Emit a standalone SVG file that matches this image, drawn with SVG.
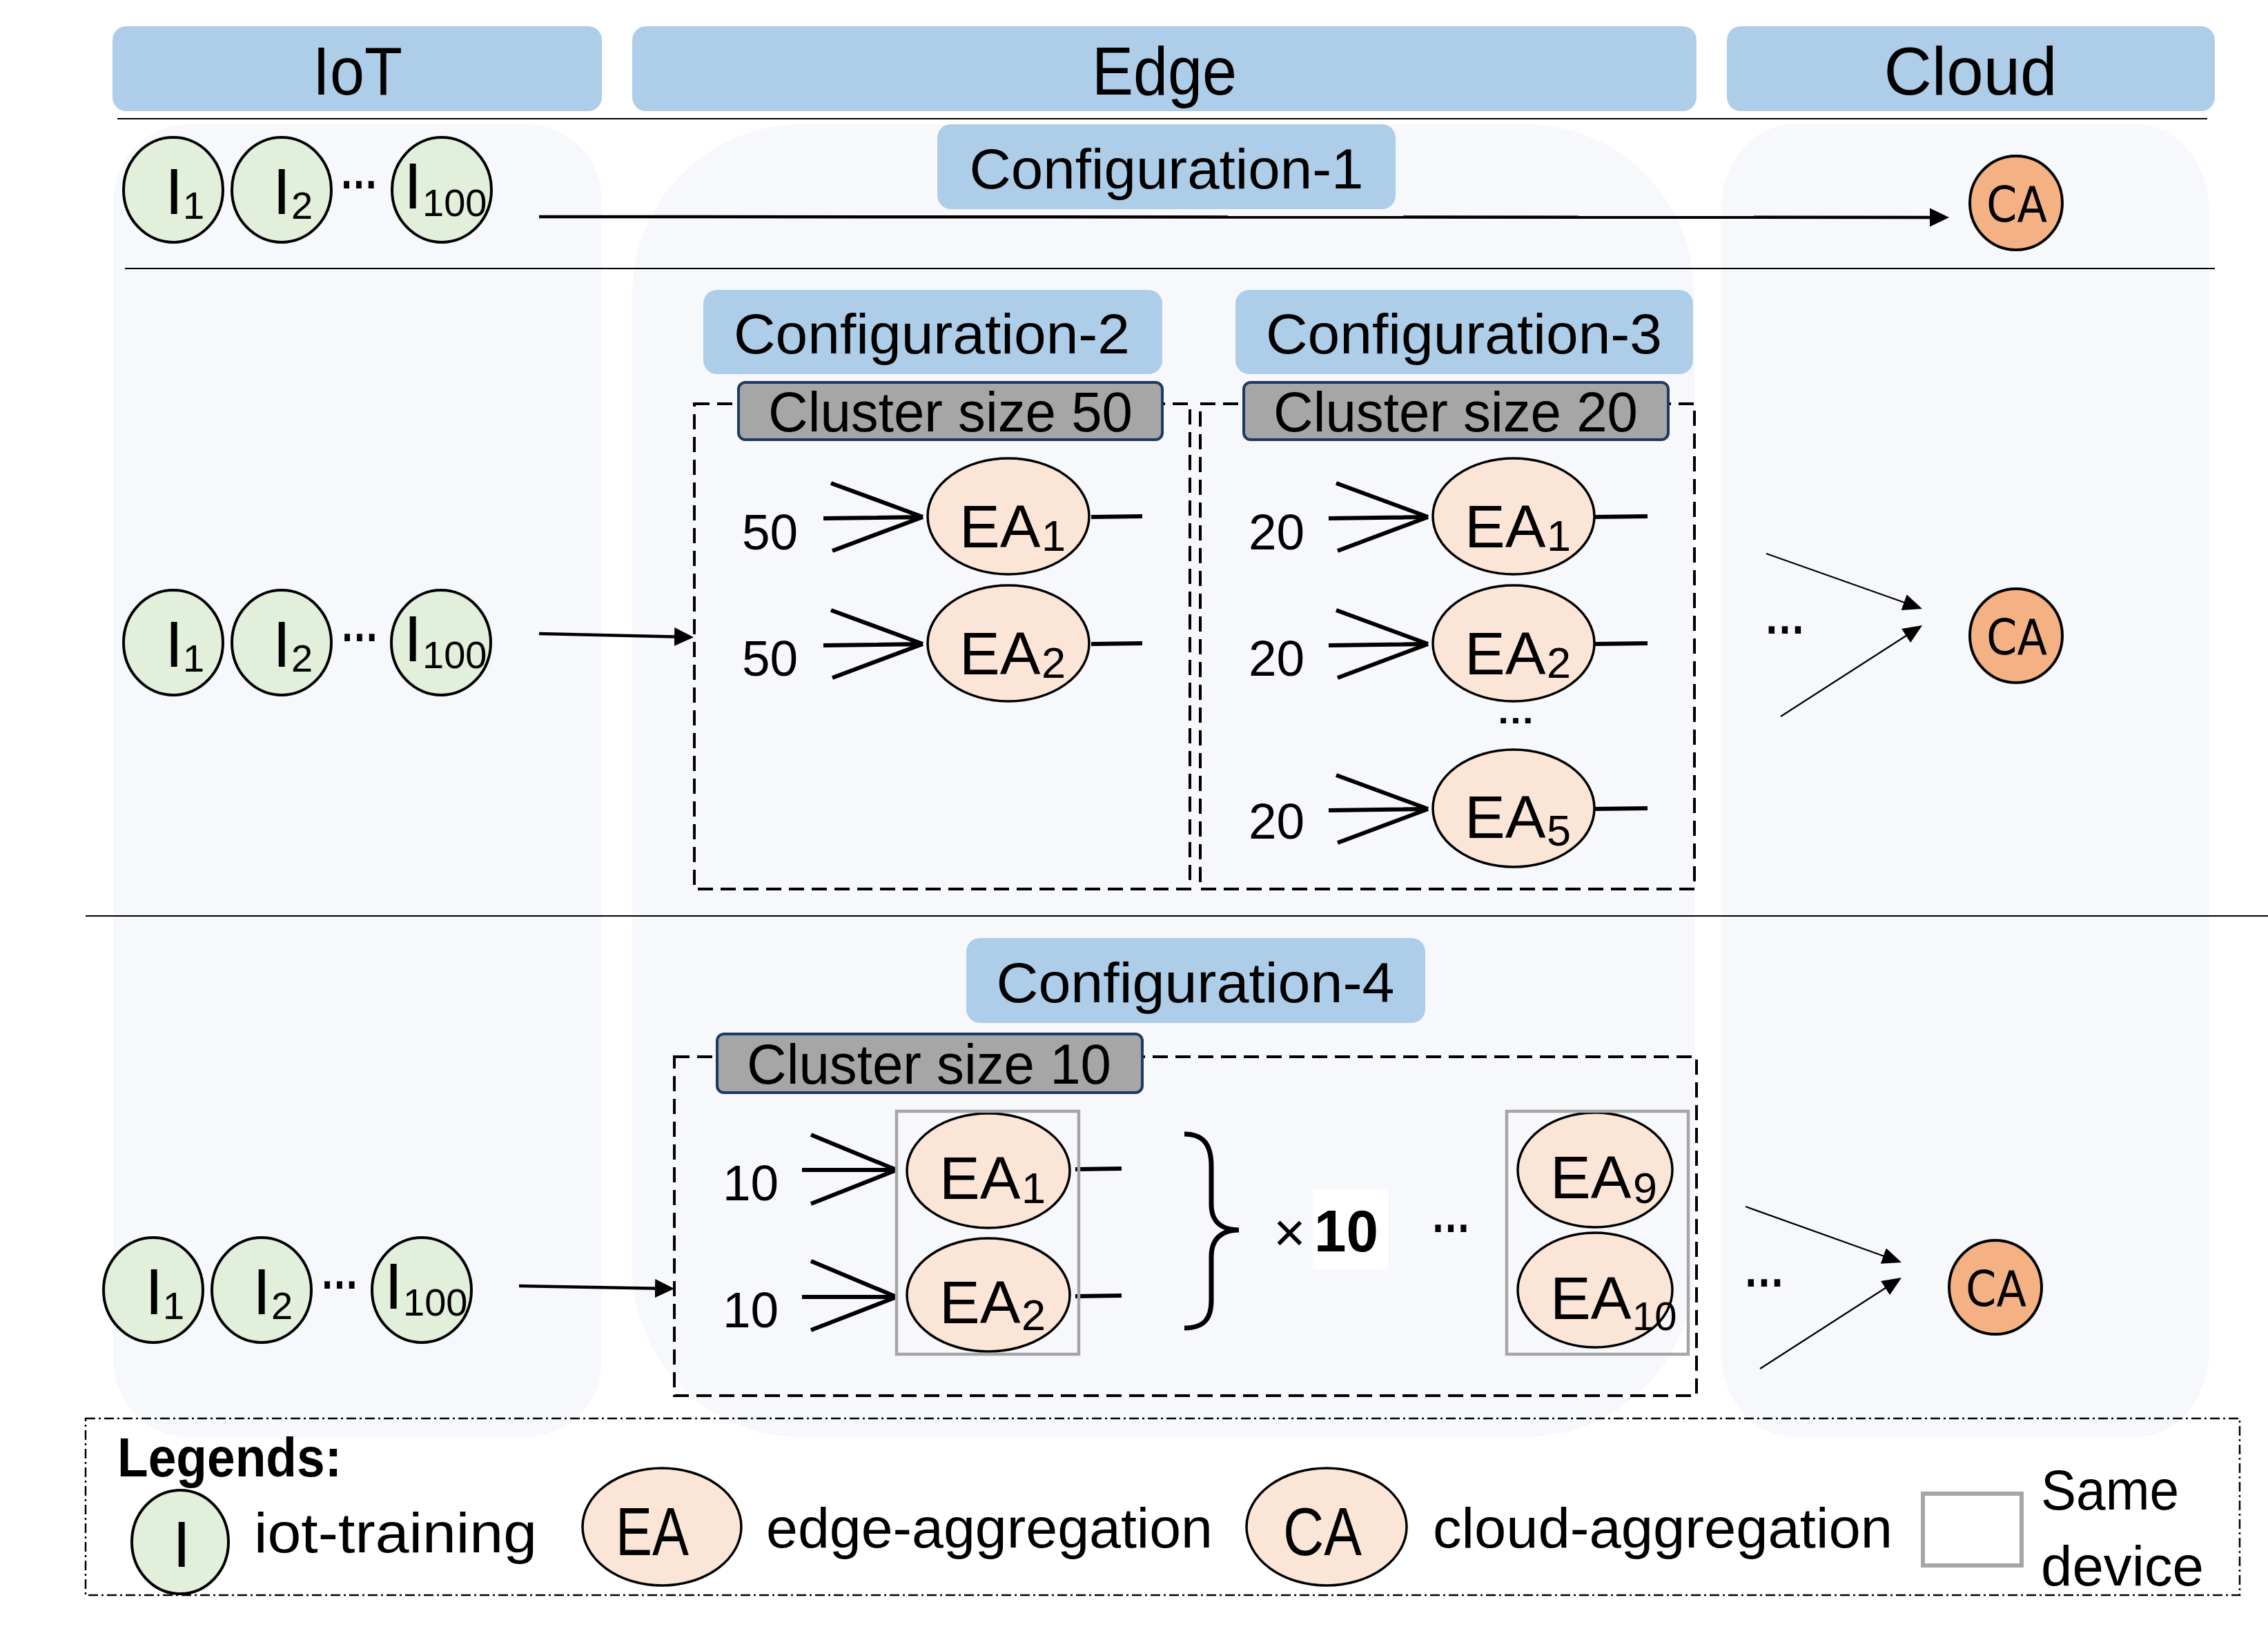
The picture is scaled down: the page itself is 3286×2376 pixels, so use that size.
<svg xmlns="http://www.w3.org/2000/svg" width="3286" height="2376" viewBox="0 0 3286 2376">
<style>
.bg{fill:#FFFFFF}
.col{fill:#F6F8FC}
.hdr{fill:#AECDE9}
.clu{fill:#A6A6A6;stroke:#1F3864;stroke-width:4}
.dash{fill:none;stroke:#000;stroke-width:4;stroke-dasharray:22 11}
.iot{fill:#E2EFDA;stroke:#000;stroke-width:4}
.ea{fill:#FBE5D6;stroke:#000;stroke-width:3.5}
.ca{fill:#F4B183;stroke:#000;stroke-width:4}
.same{fill:none;stroke:#A6A6A6;stroke-width:4.5}
.sep{stroke:#000;stroke-width:2.2}
.t{font-family:'Liberation Sans',Arial,sans-serif;fill:#000}
.eat{font-family:'Liberation Sans',Arial,sans-serif;fill:#000;font-size:88px}
.cat{font-family:'DejaVu Sans','Liberation Sans',sans-serif;fill:#000}
.fan{stroke:#000;stroke-width:6;fill:none;stroke-linecap:butt}
.arr{stroke:#000;stroke-width:4.5;fill:none}
.arrt{stroke:#000;stroke-width:2.3;fill:none}
.dots{font-family:'Liberation Sans',Arial,sans-serif;font-weight:bold;font-size:72px;fill:#000}
</style>
<defs>
<marker id="ah" markerUnits="userSpaceOnUse" markerWidth="28" markerHeight="27" refX="22" refY="13.5" orient="auto"><path d="M0,0 L28,13.5 L0,27 z" fill="#000"/></marker>
<marker id="aht" markerUnits="userSpaceOnUse" markerWidth="28" markerHeight="24" refX="22" refY="12" orient="auto"><path d="M0,0 L28,12 L0,24 z" fill="#000"/></marker>
</defs>
<rect class="bg" x="0" y="0" width="3286" height="2376"/>

<g id="columns">
<rect class="col" x="164" y="180" width="708" height="1902" rx="110" ry="110"/>
<rect class="col" x="916" y="180" width="1539" height="1902" rx="245" ry="245"/>
<rect class="col" x="2493" y="180" width="708" height="1902" rx="105" ry="125"/>
</g>

<g id="headers">
<rect class="hdr" x="163" y="38" width="709" height="123" rx="20"/>
<text class="t" x="518" y="137" font-size="98" text-anchor="middle" textLength="130" lengthAdjust="spacingAndGlyphs">IoT</text>
<rect class="hdr" x="916" y="38" width="1542" height="123" rx="20"/>
<text class="t" x="1687" y="137" font-size="98" text-anchor="middle" textLength="210" lengthAdjust="spacingAndGlyphs">Edge</text>
<rect class="hdr" x="2502" y="38" width="707" height="123" rx="20"/>
<text class="t" x="2855" y="137" font-size="98" text-anchor="middle" textLength="251" lengthAdjust="spacingAndGlyphs">Cloud</text>
</g>

<g id="separators">
<line class="sep" x1="170" y1="172" x2="3198" y2="172"/>
<line class="sep" x1="181" y1="389" x2="3209" y2="389"/>
<line class="sep" x1="124" y1="1327" x2="3286" y2="1327"/>
</g>

<g id="config-labels">
<g id="config1">
<rect class="hdr" x="1358" y="180" width="664" height="123" rx="20"/>
<text class="t" x="1690" y="273" font-size="81" text-anchor="middle" textLength="571" lengthAdjust="spacingAndGlyphs">Configuration-1</text>
</g>
<g id="config2">
<rect class="hdr" x="1019" y="420" width="665" height="122" rx="20"/>
<text class="t" x="1350" y="512" font-size="81" text-anchor="middle" textLength="574" lengthAdjust="spacingAndGlyphs">Configuration-2</text>
</g>
<g id="config3">
<rect class="hdr" x="1790" y="420" width="663" height="122" rx="20"/>
<text class="t" x="2121" y="512" font-size="81" text-anchor="middle" textLength="574" lengthAdjust="spacingAndGlyphs">Configuration-3</text>
</g>
<g id="config4">
<rect class="hdr" x="1400" y="1359" width="665" height="123" rx="20"/>
<text class="t" x="1732" y="1452" font-size="81" text-anchor="middle" textLength="577" lengthAdjust="spacingAndGlyphs">Configuration-4</text>
</g>
</g>

<g id="clusters">
<rect class="dash" x="1006" y="585" width="718" height="703"/>
<rect class="dash" x="1739" y="585" width="716" height="703"/>
<rect class="dash" x="977" y="1531" width="1481" height="491"/>
<g id="cluster50">
<rect class="clu" x="1070" y="554" width="614" height="83" rx="10"/>
<text class="t" x="1377" y="625" font-size="82" text-anchor="middle" textLength="528" lengthAdjust="spacingAndGlyphs">Cluster size 50</text>
</g>
<g id="cluster20">
<rect class="clu" x="1802" y="554" width="615" height="83" rx="10"/>
<text class="t" x="2109" y="625" font-size="82" text-anchor="middle" textLength="528" lengthAdjust="spacingAndGlyphs">Cluster size 20</text>
</g>
<g id="cluster10">
<rect class="clu" x="1039" y="1498" width="616" height="85" rx="10"/>
<text class="t" x="1346" y="1570" font-size="82" text-anchor="middle" textLength="528" lengthAdjust="spacingAndGlyphs">Cluster size 10</text>
</g>
</g>

<g id="connectors">
<line class="arr" x1="781" y1="314" x2="2818" y2="315" marker-end="url(#ah)"/>
<line class="arr" x1="781" y1="918" x2="999" y2="923" marker-end="url(#ah)"/>
<line class="arr" x1="752" y1="1863" x2="971" y2="1867" marker-end="url(#ah)"/>
<line class="arrt" x1="2559" y1="802" x2="2779.3" y2="880" marker-end="url(#aht)"/>
<line class="arrt" x1="2580" y1="1038" x2="2780" y2="909.2" marker-end="url(#aht)"/>
<line class="arrt" x1="2529" y1="1748" x2="2749.4" y2="1827" marker-end="url(#aht)"/>
<line class="arrt" x1="2550" y1="1983" x2="2750" y2="1854.2" marker-end="url(#aht)"/>
<path class="fan" d="M1204,700 L1337,749 M1193,751 L1337,749 M1206,798 L1337,749 M1581,749 L1655,748"/>
<path class="fan" d="M1204,884 L1337,933 M1193,935 L1337,933 M1206,982 L1337,933 M1581,933 L1655,932"/>
<path class="fan" d="M1936,700 L2069,749 M1925,751 L2069,749 M1938,798 L2069,749 M2309,749 L2387,748"/>
<path class="fan" d="M1936,884 L2069,933 M1925,935 L2069,933 M1938,982 L2069,933 M2309,933 L2387,932"/>
<path class="fan" d="M1936,1123 L2069,1172 M1925,1174 L2069,1172 M1938,1221 L2069,1172 M2309,1172 L2387,1171"/>
<path class="fan" d="M1175,1644 L1299,1695 M1162,1695 L1299,1695 M1175,1744 L1299,1695 M1558,1694 L1625,1693"/>
<path class="fan" d="M1175,1827 L1299,1879 M1162,1879 L1299,1879 M1175,1927 L1299,1879 M1558,1878 L1625,1877"/>
</g>

<g id="iot-row1">
<g id="r1-i1"><ellipse class="iot" cx="251" cy="275" rx="72" ry="76"/><text class="t" font-size="95"><tspan x="239" y="310">I</tspan><tspan x="265" y="317" font-size="56">1</tspan></text></g>
<g id="r1-i2"><ellipse class="iot" cx="408" cy="275" rx="72" ry="76"/><text class="t" font-size="95"><tspan x="395" y="310">I</tspan><tspan x="422" y="317" font-size="56">2</tspan></text></g>
<text class="dots" x="520" y="273" text-anchor="middle" textLength="56" lengthAdjust="spacingAndGlyphs">…</text>
<g id="r1-i100"><ellipse class="iot" cx="640" cy="275" rx="72" ry="76"/><text class="t" font-size="95"><tspan x="585" y="302">I</tspan><tspan x="612" y="313" font-size="56">100</tspan></text></g>
</g>
<g id="iot-row2">
<g id="r2-i1"><ellipse class="iot" cx="251" cy="931" rx="72" ry="76"/><text class="t" font-size="95"><tspan x="239" y="966">I</tspan><tspan x="265" y="973" font-size="56">1</tspan></text></g>
<g id="r2-i2"><ellipse class="iot" cx="408" cy="931" rx="72" ry="76"/><text class="t" font-size="95"><tspan x="395" y="966">I</tspan><tspan x="422" y="973" font-size="56">2</tspan></text></g>
<text class="dots" x="521" y="929" text-anchor="middle" textLength="56" lengthAdjust="spacingAndGlyphs">…</text>
<g id="r2-i100"><ellipse class="iot" cx="639" cy="931" rx="72" ry="76"/><text class="t" font-size="95"><tspan x="585" y="958">I</tspan><tspan x="612" y="968" font-size="56">100</tspan></text></g>
</g>
<g id="iot-row3">
<g id="r3-i1"><ellipse class="iot" cx="222" cy="1869" rx="72" ry="76"/><text class="t" font-size="95"><tspan x="210" y="1904">I</tspan><tspan x="236" y="1911" font-size="56">1</tspan></text></g>
<g id="r3-i2"><ellipse class="iot" cx="379" cy="1869" rx="72" ry="76"/><text class="t" font-size="95"><tspan x="366" y="1904">I</tspan><tspan x="393" y="1911" font-size="56">2</tspan></text></g>
<text class="dots" x="492" y="1867" text-anchor="middle" textLength="56" lengthAdjust="spacingAndGlyphs">…</text>
<g id="r3-i100"><ellipse class="iot" cx="611" cy="1869" rx="72" ry="76"/><text class="t" font-size="95"><tspan x="557" y="1896">I</tspan><tspan x="584" y="1906" font-size="56">100</tspan></text></g>
</g>

<g id="config2-nodes">
<text class="t" x="1075" y="796" font-size="73">50</text>
<text class="t" x="1075" y="979" font-size="73">50</text>
<g id="c2-ea1"><ellipse class="ea" cx="1461" cy="748" rx="117" ry="84"/><text class="eat"><tspan x="1390" y="793">EA</tspan><tspan x="1509" y="798" font-size="63">1</tspan></text></g>
<g id="c2-ea2"><ellipse class="ea" cx="1461" cy="932" rx="117" ry="84"/><text class="eat"><tspan x="1390" y="977">EA</tspan><tspan x="1509" y="982" font-size="63">2</tspan></text></g>
</g>

<g id="config3-nodes">
<text class="t" x="1809" y="796" font-size="73">20</text>
<text class="t" x="1809" y="979" font-size="73">20</text>
<text class="t" x="1809" y="1215" font-size="73">20</text>
<g id="c3-ea1"><ellipse class="ea" cx="2193" cy="748" rx="117" ry="84"/><text class="eat"><tspan x="2122" y="793">EA</tspan><tspan x="2241" y="798" font-size="63">1</tspan></text></g>
<g id="c3-ea2"><ellipse class="ea" cx="2193" cy="932" rx="117" ry="84"/><text class="eat"><tspan x="2122" y="977">EA</tspan><tspan x="2241" y="982" font-size="63">2</tspan></text></g>
<text class="dots" x="2196" y="1048" font-size="52" text-anchor="middle" textLength="56" lengthAdjust="spacingAndGlyphs" style="font-size:52px">…</text>
<g id="c3-ea5"><ellipse class="ea" cx="2193" cy="1171" rx="117" ry="85"/><text class="eat"><tspan x="2122" y="1214">EA</tspan><tspan x="2241" y="1225" font-size="63">5</tspan></text></g>
</g>

<g id="config4-nodes">
<text class="t" x="1047" y="1739" font-size="73">10</text>
<text class="t" x="1047" y="1923" font-size="73">10</text>
<g id="c4-ea1"><ellipse class="ea" cx="1432" cy="1696" rx="118" ry="83"/><text class="eat"><tspan x="1361" y="1737">EA</tspan><tspan x="1480" y="1743" font-size="63">1</tspan></text></g>
<g id="c4-ea2"><ellipse class="ea" cx="1432" cy="1876" rx="118" ry="82"/><text class="eat"><tspan x="1361" y="1917">EA</tspan><tspan x="1480" y="1927" font-size="63">2</tspan></text></g>
<rect class="same" x="1299" y="1610" width="264" height="352"/>
<path d="M1716,1643 C1745,1643 1755,1660 1755,1690 L1755,1745 C1755,1770 1770,1782 1795,1782 C1770,1782 1755,1795 1755,1820 L1755,1884 C1755,1910 1745,1924 1716,1924" fill="none" stroke="#000" stroke-width="7"/>
<text class="t" x="1845" y="1813" font-size="80">×</text>
<rect x="1902" y="1723" width="109" height="116" fill="#FFFFFF"/>
<text class="t" x="1904" y="1813" font-size="85" font-weight="bold" textLength="93" lengthAdjust="spacingAndGlyphs">10</text>
<text class="dots" x="2102" y="1785" text-anchor="middle" textLength="58" lengthAdjust="spacingAndGlyphs">…</text>
<g id="c4-ea9"><ellipse class="ea" cx="2311" cy="1695" rx="112" ry="83"/><text class="eat"><tspan x="2246" y="1736">EA</tspan><tspan x="2366" y="1743" font-size="63">9</tspan></text></g>
<g id="c4-ea10"><ellipse class="ea" cx="2311" cy="1869" rx="112" ry="83"/><text class="eat"><tspan x="2246" y="1911">EA</tspan><tspan x="2365" y="1927" font-size="58">10</tspan></text></g>
<rect class="same" x="2183" y="1610" width="263" height="352"/>
</g>

<g id="cloud">
<g id="ca1"><ellipse class="ca" cx="2921" cy="294" rx="67" ry="68"/><text class="cat" x="2922" y="321" font-size="72" text-anchor="middle" textLength="88" lengthAdjust="spacingAndGlyphs">CA</text></g>
<text class="dots" x="2586" y="918" text-anchor="middle" textLength="60" lengthAdjust="spacingAndGlyphs">…</text>
<g id="ca2"><ellipse class="ca" cx="2921" cy="921" rx="67" ry="68"/><text class="cat" x="2922" y="948" font-size="72" text-anchor="middle" textLength="88" lengthAdjust="spacingAndGlyphs">CA</text></g>
<text class="dots" x="2556" y="1864" text-anchor="middle" textLength="60" lengthAdjust="spacingAndGlyphs">…</text>
<g id="ca3"><ellipse class="ca" cx="2891" cy="1865" rx="67" ry="68"/><text class="cat" x="2892" y="1892" font-size="72" text-anchor="middle" textLength="88" lengthAdjust="spacingAndGlyphs">CA</text></g>
</g>

<g id="legend">
<rect x="124" y="2055" width="3121" height="256" fill="none" stroke="#000" stroke-width="2.5" stroke-dasharray="14 5 3 5"/>
<text class="t" x="170" y="2139" font-size="80" font-weight="bold" textLength="325" lengthAdjust="spacingAndGlyphs">Legends:</text>
<g id="leg-i"><ellipse class="iot" cx="261" cy="2234" rx="70" ry="75"/><text class="t" x="250" y="2270" font-size="95">I</text></g>
<text class="t" x="368" y="2249" font-size="81" textLength="410" lengthAdjust="spacingAndGlyphs">iot-training</text>
<g id="leg-ea"><ellipse class="ea" cx="959" cy="2212" rx="115" ry="85"/><text class="t" x="892" y="2253" font-size="98" textLength="106" lengthAdjust="spacingAndGlyphs">EA</text></g>
<text class="t" x="1110" y="2242" font-size="81" textLength="647" lengthAdjust="spacingAndGlyphs">edge-aggregation</text>
<g id="leg-ca"><ellipse class="ea" cx="1922" cy="2212" rx="116" ry="85"/><text class="t" x="1859" y="2253" font-size="98" textLength="114" lengthAdjust="spacingAndGlyphs">CA</text></g>
<text class="t" x="2076" y="2242" font-size="81" textLength="666" lengthAdjust="spacingAndGlyphs">cloud-aggregation</text>
<rect x="2786" y="2164" width="143" height="104" fill="#FFFFFF" stroke="#A6A6A6" stroke-width="6"/>
<text class="t" x="2957" y="2187" font-size="81" textLength="200" lengthAdjust="spacingAndGlyphs">Same</text>
<text class="t" x="2957" y="2297" font-size="81" textLength="236" lengthAdjust="spacingAndGlyphs">device</text>
</g>
</svg>
